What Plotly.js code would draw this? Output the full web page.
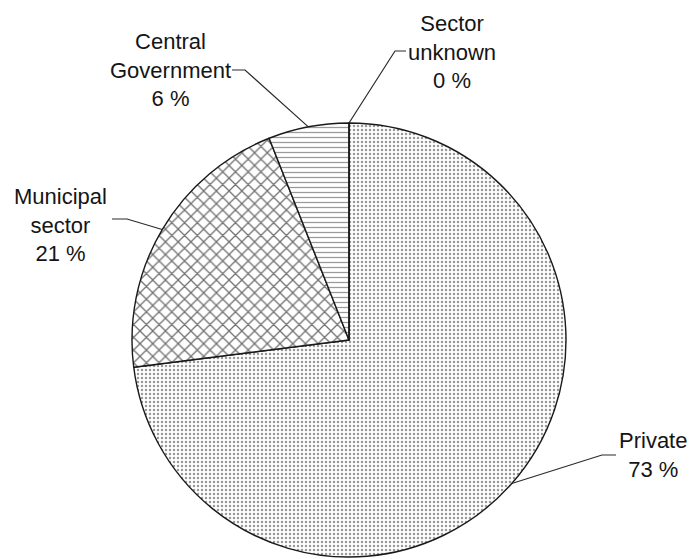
<!DOCTYPE html>
<html>
<head>
<meta charset="utf-8">
<script src="https://cdn.plot.ly/plotly-3.0.1.min.js"></script>
<style>
  html, body { margin: 0; padding: 0; background: #fff; }
  #chart { width: 693px; height: 559px; }
</style>
</head>
<body>
<div id="chart"></div>
<script>
// Employment by sector, share of total (%)
const sectors = ['Private', 'Municipal sector', 'Central Government', 'Sector unknown'];
const labelLines = [['Private'], ['Municipal', 'sector'], ['Central', 'Government'], ['Sector', 'unknown']];
const shares = [73, 21, 6, 0];

// Fill patterns per slice
const patternShapes = ['.', 'x', '-', '.'];
const patternSizes = [4, 9, 5, 4];
const patternSolidity = [0.3, 0.26, 0.25, 0.3];
const patternColors = ['#9a9a9a', '#707070', '#9a9a9a', '#9a9a9a'];

// Page geometry (pixels)
const W = 693, H = 559;
const CX = 349, CY = 340, R = 217;

// Label placement: text centre, elbow point and end of horizontal tick (pixels)
const labelPos = [
  { x: 653, y: 455, elbow: [602, 455], tick: [616, 455] },
  { x: 60,  y: 225, elbow: [127, 219], tick: [112, 219] },
  { x: 170, y: 70,  elbow: [245, 70],  tick: [232, 70] },
  { x: 452, y: 52,  elbow: [395, 51],  tick: [406, 51] }
];

const px = x => x / W;
const py = y => 1 - y / H;

// Mid-angle of each slice (clockwise from 12 o'clock), from the data
const total = shares.reduce((a, b) => a + b, 0);
let cum = 0;
const midAngles = shares.map(v => {
  const a = (cum + v / 2) / total * 2 * Math.PI;
  cum += v;
  return a;
});

const trace = {
  type: 'pie',
  labels: sectors,
  values: shares,
  sort: false,
  direction: 'clockwise',
  rotation: 0,
  textinfo: 'none',
  hoverinfo: 'label+percent',
  showlegend: false,
  domain: { x: [px(CX - R), px(CX + R)], y: [py(CY + R), py(CY - R)] },
  marker: {
    colors: ['#ffffff', '#ffffff', '#ffffff', '#ffffff'],
    line: { color: '#1a1a1a', width: 1.4 },
    pattern: {
      shape: patternShapes,
      size: patternSizes,
      solidity: patternSolidity,
      fgcolor: patternColors,
      bgcolor: '#ffffff'
    }
  }
};

const annotations = labelLines.map((lines, i) => ({
  xref: 'paper', yref: 'paper',
  x: px(labelPos[i].x), y: py(labelPos[i].y),
  xanchor: 'center', yanchor: 'middle',
  text: lines.concat([shares[i] + ' %']).join('<br>'),
  showarrow: false,
  align: 'center',
  font: { family: 'Liberation Sans, Arial, sans-serif', size: 22, color: '#151515' }
}));

const shapes = midAngles.map((a, i) => {
  const ex = CX + R * Math.sin(a), ey = CY - R * Math.cos(a);
  const p = labelPos[i];
  return {
    type: 'path', xref: 'paper', yref: 'paper',
    path: `M ${px(ex)},${py(ey)} L ${px(p.elbow[0])},${py(p.elbow[1])} L ${px(p.tick[0])},${py(p.tick[1])}`,
    line: { color: '#2a2a2a', width: 1.2 }
  };
});

const layout = {
  width: W, height: H,
  margin: { l: 0, r: 0, t: 0, b: 0 },
  paper_bgcolor: '#ffffff',
  plot_bgcolor: '#ffffff',
  annotations: annotations,
  shapes: shapes
};

Plotly.newPlot('chart', [trace], layout, { displayModeBar: false, staticPlot: true });
</script>
</body>
</html>
